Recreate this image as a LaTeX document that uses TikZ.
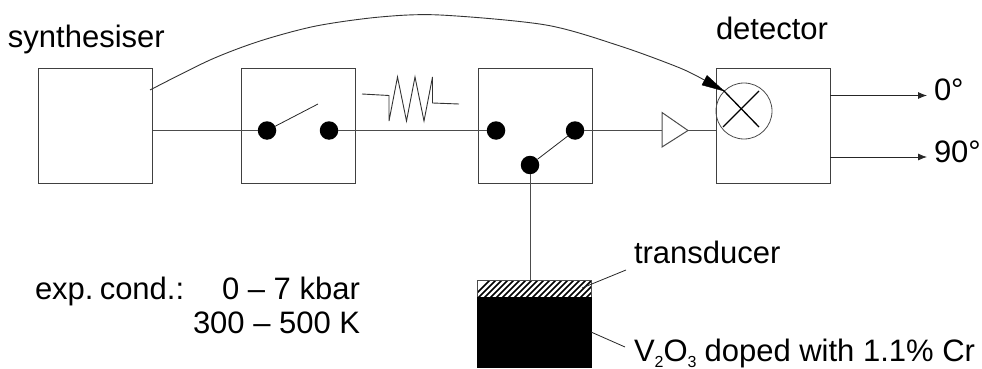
\documentclass[tikz,border=0pt]{standalone}
\usepackage{fontspec}
\setmainfont{Liberation Sans}
\usetikzlibrary{arrows.meta,calc}
\tikzset{
  box/.style={draw=black!75,line width=1pt,minimum width=114.5pt,minimum height=114.5pt,inner sep=0pt,outer sep=0pt,anchor=north west},
  dot/.style={circle,fill=black,inner sep=0pt,minimum size=18.5pt,outer sep=0pt},
  wire/.style={draw=black!70,line width=1pt},
  thin wire/.style={draw=black!85,line width=.8pt},
  lab/.style={inner sep=0pt,outer sep=0pt,font=\fontsize{31}{36}\selectfont,anchor=base west},
  outarrow/.style={thin wire,-{Latex[length=9pt,width=7pt]}}
}
\newcommand{\subdig}[1]{\raisebox{-6pt}{\fontsize{16}{16}\selectfont #1}}
\begin{document}
\begin{tikzpicture}[x=1pt,y=-1pt]
\useasboundingbox (0,0) rectangle (982,369);
\node[box] (syn) at (38,69) {};
\node[box] (sw1) at (241,69) {};
\node[box] (sw2) at (478,69) {};
\node[box] (det) at (716,69) {};
\node[dot] (a1) at (267,130.5) {};
\node[dot] (a2) at (329,130.5) {};
\node[dot] (b1) at (496,130.5) {};
\node[dot] (b2) at (575,130.5) {};
\node[dot] (b3) at (530,165) {};
\coordinate (synout) at (153,130.5);
\coordinate (synup) at (150,90);
\coordinate (armend) at (318,104);
\coordinate (amptip) at (688,130.5);
\coordinate (ampb) at (662,112.5);
\coordinate (ampc) at (662,147);
\coordinate (amp) at (662,130.5);
\coordinate (detin) at (716,130.5);
\draw[wire] (synout) -- (a1);
\draw[thin wire] (a1) -- (armend);
\draw[wire] (a2) -- (b1);
\draw[thin wire] (b3) -- (b2);
\draw[wire] (b2) -- (amp);
\draw[black!70,line width=1pt,fill=white] (ampb) -- (amptip) -- (ampc) -- cycle;
\draw[wire] (amptip) -- (detin);
% resistor
\draw[black!80,line width=.9pt] (362,94) -- (389,95.5) -- (389,121) -- (397.5,77) -- (406.5,121) -- (415,77) -- (424,121) -- (432.5,77) -- (432.5,103) -- (459,104);
% mixer
\node[draw=black!70,line width=.8pt,circle,minimum size=56pt,inner sep=0pt] (mix) at (744,111) {};
\draw[black,line width=1.3pt] (723,90) -- (759,127);
\draw[black,line width=1.3pt] (723,127) -- (759,91);
% curved arrow
\coordinate (arrowend) at (724,91);
\draw[black!80,line width=.9pt] plot[smooth,tension=.5] coordinates {(synup) (210,60) (260,41) (316,26) (380,17) (440,15) (546,25) (620,46) (680,68) (706,81)};
\draw[fill=black,draw=black] (arrowend) -- (707,75.5) -- (702,85) -- cycle;
% outputs
\coordinate (o1) at (830,95.5);
\coordinate (o2) at (830,157);
\coordinate (t1) at (927,95.5);
\coordinate (t2) at (927,157);
\draw[outarrow] (o1) -- (t1);
\draw[outarrow] (o2) -- (t2);
\node[lab] (l0) at (934,100.5) {0°};
\node[lab] (l90) at (934,162) {90°};
% stack
\begin{scope}
\clip (477,280) rectangle (591,297);
\foreach \k in {0,...,24} {\draw[black,line width=1.6pt] ({470+\k*6},300) -- ({492+\k*6},278);}
\end{scope}
\draw[black!70,line width=.8pt] (477,280) rectangle (591,297);
\fill[black] (477,297) rectangle (591.5,368);
\coordinate (stacktop) at (530,280);
\draw[wire] (b3) -- (stacktop);
\coordinate (tp) at (582,288);
\coordinate (tq) at (626,270);
\coordinate (vp) at (591,332);
\coordinate (vq) at (625,347);
\draw[thin wire] (tp) -- (tq);
\draw[thin wire] (vp) -- (vq);
% labels
\node[lab] (syntxt) at (8,48) {synthesiser};
\node[lab] (dettxt) at (716,39.5) {detector};
\node[lab] (trans) at (634,263) {transducer};
\node[lab] (vo) at (634,361) {V\subdig{2}O\subdig{3}\hspace{8pt}doped with 1.1\% Cr};
\node[lab] (c1) at (35,299) {exp.\hspace{.2em}cond.:};
\node[lab] (c2) at (222,299) {0 – 7 kbar};
\node[lab] (c3) at (193,333) {300 – 500 K};
\end{tikzpicture}
\end{document}
